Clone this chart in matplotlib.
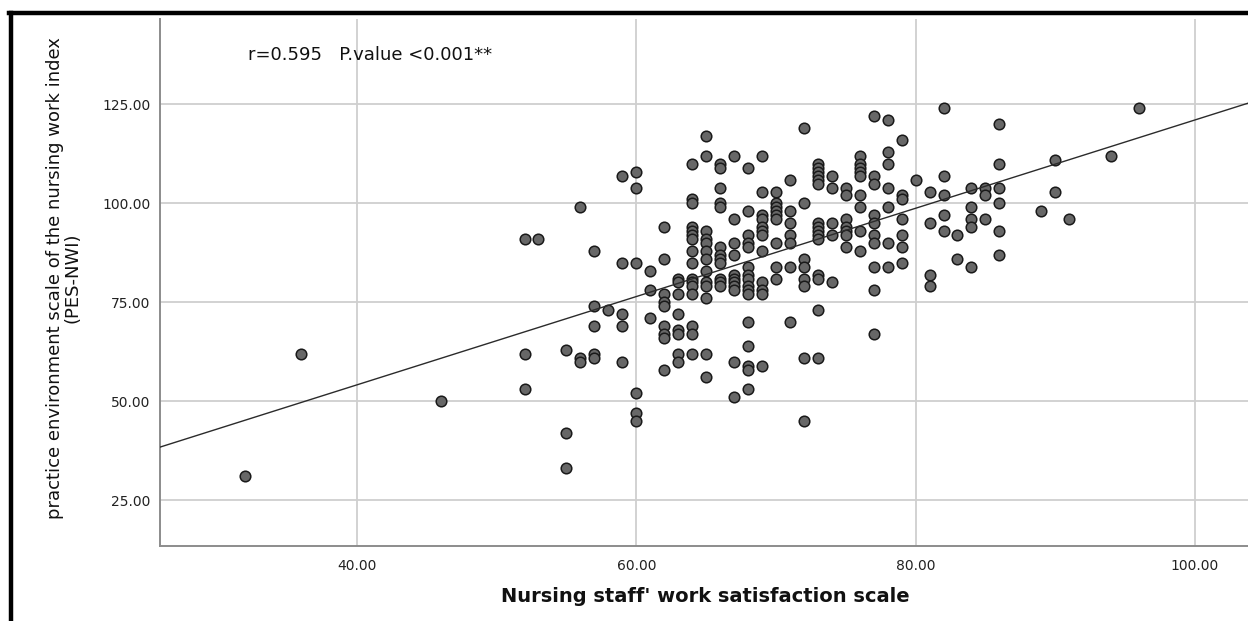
import numpy as np
import matplotlib
matplotlib.use("Agg")
import matplotlib.pyplot as plt
from matplotlib.lines import Line2D

# Nursing staff' work satisfaction scale (x) vs PES-NWI (y), read column by column
satisfaction = [
    32, 36, 46, 52, 52, 52, 53, 55, 55, 55, 56, 56, 56, 57, 57, 57, 57, 57, 58,
    59, 59, 59, 59, 59, 60, 60, 60, 60, 60, 60,
    61, 61, 61,
    62, 62, 62, 62, 62, 62, 62, 62, 62,
    63, 63, 63, 63, 63, 63, 63, 63,
    64, 64, 64, 64, 64, 64, 64, 64, 64, 64, 64, 64, 64, 64, 64, 64,
    65, 65, 65, 65, 65, 65, 65, 65, 65, 65, 65, 65, 65,
    66, 66, 66, 66, 66, 66, 66, 66, 66, 66, 66, 66,
    67, 67, 67, 67, 67, 67, 67, 67, 67, 67, 67,
    68, 68, 68, 68, 68, 68, 68, 68, 68, 68, 68, 68, 68, 68, 68, 68,
    69, 69, 69, 69, 69, 69, 69, 69, 69, 69, 69, 69,
    70, 70, 70, 70, 70, 70, 70, 70, 70,
    71, 71, 71, 71, 71, 71, 71,
    72, 72, 72, 72, 72, 72, 72, 72,
    73, 73, 73, 73, 73, 73, 73, 73, 73, 73, 73, 73, 73, 73, 73,
    74, 74, 74, 74, 74,
    75, 75, 75, 75, 75, 75, 75,
    76, 76, 76, 76, 76, 76, 76, 76, 76,
    77, 77, 77, 77, 77, 77, 77, 77, 77, 77,
    78, 78, 78, 78, 78, 78, 78,
    79, 79, 79, 79, 79, 79, 79,
    80,
    81, 81, 81, 81,
    82, 82, 82, 82, 82,
    83, 83,
    84, 84, 84, 84, 84,
    85, 85, 85,
    86, 86, 86, 86, 86, 86,
    89, 90, 90, 91, 94, 96,
]
pes_nwi = [
    31, 62, 50, 91, 62, 53, 91, 42, 33, 63, 99, 61, 60, 88, 74, 69, 62, 61, 73,
    107, 85, 72, 69, 60, 108, 104, 85, 52, 47, 45,
    83, 78, 71,
    94, 86, 77, 75, 74, 69, 67, 66, 58,
    81, 80, 77, 72, 68, 67, 62, 60,
    110, 101, 100, 94, 93, 92, 91, 88, 85, 81, 80, 79, 77, 69, 67, 62,
    117, 112, 93, 91, 90, 88, 86, 83, 80, 79, 76, 62, 56,
    110, 109, 104, 100, 99, 89, 87, 86, 85, 81, 80, 79,
    112, 96, 90, 87, 82, 81, 80, 79, 78, 60, 51,
    109, 98, 92, 90, 89, 84, 82, 81, 79, 78, 77, 70, 64, 59, 58, 53,
    112, 103, 97, 96, 94, 93, 92, 88, 80, 78, 77, 59,
    103, 100, 99, 98, 97, 96, 90, 84, 81,
    106, 98, 95, 92, 90, 84, 70,
    119, 100, 86, 84, 81, 79, 61, 45,
    110, 109, 108, 107, 106, 105, 95, 94, 93, 92, 91, 82, 81, 73, 61,
    107, 104, 95, 92, 80,
    104, 102, 96, 94, 93, 92, 89,
    112, 110, 109, 108, 107, 102, 99, 93, 88,
    122, 107, 105, 97, 95, 92, 90, 84, 78, 67,
    121, 113, 110, 104, 99, 90, 84,
    116, 102, 101, 96, 92, 89, 85,
    106,
    103, 95, 82, 79,
    124, 107, 102, 97, 93,
    92, 86,
    104, 99, 96, 94, 84,
    104, 102, 96,
    120, 110, 104, 100, 93, 87,
    98, 111, 103, 96, 112, 124,
]

x_ticks = [40, 60, 80, 100]
y_ticks = [25, 50, 75, 100, 125]
annotation = "r=0.595   P.value <0.001**"

x = np.array(satisfaction, dtype=float)
y = np.array(pes_nwi, dtype=float)

fig = plt.figure(figsize=(12.48, 6.21), dpi=100)
ax = fig.add_axes([160 / 1248, 1 - 546 / 621, 1 - 160 / 1248, (546 - 19) / 621])

ax.set_xlim(25.9, 103.8)
ax.set_ylim(13.4, 146.6)
ax.set_xticks(x_ticks)
ax.set_yticks(y_ticks)
ax.set_xticklabels([f"{v:.2f}" for v in x_ticks])
ax.set_yticklabels([f"{v:.2f}" for v in y_ticks])
ax.tick_params(length=0, labelsize=10, colors="#222222")
ax.tick_params(axis="x", pad=9)
ax.tick_params(axis="y", pad=7)

ax.grid(True, color="#cfcfcf", linewidth=1.3)
ax.set_axisbelow(True)
for side in ["top", "right"]:
    ax.spines[side].set_visible(False)
for side in ["left", "bottom"]:
    ax.spines[side].set_color("#8c8c8c")
    ax.spines[side].set_linewidth(1.4)

ax.scatter(x, y, s=58, facecolor="#676767", edgecolor="#1a1a1a",
           linewidth=1.1, zorder=3)

# least squares fit line across the whole axis
slope, intercept = np.polyfit(x, y, 1)
xs = np.array(ax.get_xlim())
ax.plot(xs, intercept + slope * xs, color="#2b2b2b", linewidth=1.0, zorder=4)

fig.text(248 / 1248, 1 - 55 / 621, annotation, fontsize=13,
         ha="left", va="center", color="#111111")

fig.text(64 / 1248, 1 - 278 / 621,
         "practice environment scale of the nursing work index\n(PES-NWI)",
         rotation=90, fontsize=13, ha="center", va="center",
         multialignment="center", linespacing=0.95, color="#111111")
fig.text(705 / 1248, 1 - 596 / 621, "Nursing staff' work satisfaction scale",
         fontsize=14, fontweight="bold", ha="center", va="center",
         color="#111111")

# black frame on the left and top edges of the picture
fig.add_artist(Line2D([10.5 / 1248, 10.5 / 1248], [0, 1 - 12.5 / 621],
                      transform=fig.transFigure, color="black", linewidth=3.2))
fig.add_artist(Line2D([8.5 / 1248, 1], [1 - 12.5 / 621, 1 - 12.5 / 621],
                      transform=fig.transFigure, color="black", linewidth=3.2))

fig.savefig("out.png", dpi=100)
